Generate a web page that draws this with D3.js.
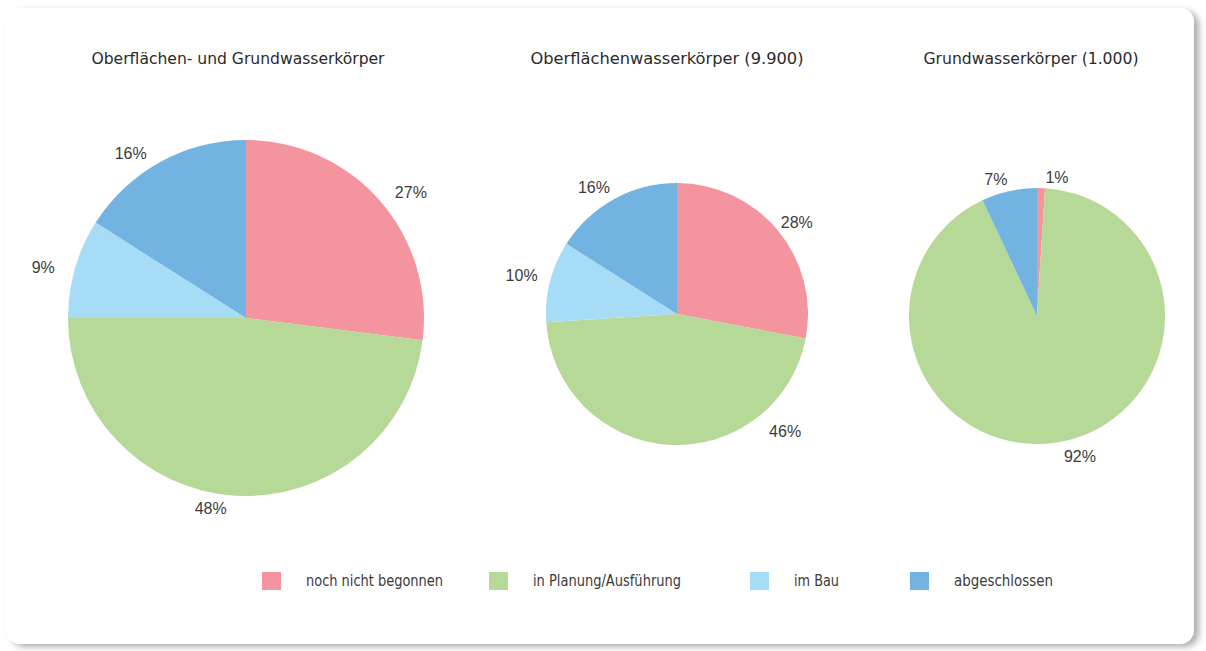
<!DOCTYPE html>
<html>
<head>
<meta charset="utf-8">
<script src="https://cdn.jsdelivr.net/npm/d3@7"></script>
<style>
  html, body { margin: 0; padding: 0; background: #ffffff; }
  svg { display: block; }
</style>
</head>
<body>
<svg id="chart" width="1206" height="651"></svg>
<script>
// ---------- data ----------
const categories = ["noch nicht begonnen", "in Planung/Ausführung", "im Bau", "abgeschlossen"];
const chartTitles = ["Oberflächen- und Grundwasserkörper", "Oberflächenwasserkörper (9.900)", "Grundwasserkörper (1.000)"];
const valuesGesamt = [27, 48, 9, 16];
const valuesOberflaeche = [28, 46, 10, 16];
const valuesGrundwasser = [1, 92, 0, 7];
const colors = ["#f4949f", "#b6d998", "#a6dcf6", "#72b3e1"];

// ---------- layout (positions/styles, not data) ----------
const pieLayout = [
  { cx: 246, cy: 318, r: 178, titleX: 238, labelAngles: [52.8, 190.5, 284, 325], labelDists: [207, 194, 209, 201] },
  { cx: 677, cy: 314, r: 131, titleX: 667, labelAngles: [52.5, 137.5, 283.8, 326.6], labelDists: [151, 160, 160, 151] },
  { cx: 1037, cy: 316, r: 128, titleX: 1031, labelAngles: [8.2, 163, 0, 343.3], labelDists: [140, 147, 0, 143] }
];
const titleLengths = [293, 273, 215];
const legendX = [262, 489, 750, 910];
const legendTextLengths = [137, 148, 45, 99];

const seriesList = [valuesGesamt, valuesOberflaeche, valuesGrundwasser];

const svg = d3.select("#chart");

// panel with shadow
const defs = svg.append("defs");
const f = defs.append("filter").attr("id", "shadow").attr("x", "-5%").attr("y", "-5%").attr("width", "110%").attr("height", "110%");
f.append("feDropShadow").attr("dx", 5).attr("dy", 3).attr("stdDeviation", 3)
  .attr("flood-color", "#7a7a7a").attr("flood-opacity", 0.6);

svg.append("rect")
  .attr("x", 6).attr("y", 8).attr("width", 1188).attr("height", 636)
  .attr("rx", 14).attr("ry", 14)
  .attr("fill", "#ffffff")
  .attr("filter", "url(#shadow)");

const color = d3.scaleOrdinal().domain(categories).range(colors);
const pie = d3.pie().sort(null).value(d => d.value);

seriesList.forEach((vals, i) => {
  const L = pieLayout[i];
  const g = svg.append("g").attr("transform", `translate(${L.cx},${L.cy})`);
  const data = categories.map((c, k) => ({ cat: c, value: vals[k], k }));
  const arcs = pie(data);
  const arc = d3.arc().innerRadius(0).outerRadius(L.r);

  g.selectAll("path.slice")
    .data(arcs.filter(a => a.data.value > 0))
    .join("path")
    .attr("class", "slice")
    .attr("d", arc)
    .attr("fill", d => color(d.data.cat));

  g.selectAll("text.lbl")
    .data(arcs.filter(a => a.data.value > 0))
    .join("text")
    .attr("class", "lbl")
    .attr("x", d => L.labelDists[d.data.k] * Math.sin(L.labelAngles[d.data.k] * Math.PI / 180))
    .attr("y", d => -L.labelDists[d.data.k] * Math.cos(L.labelAngles[d.data.k] * Math.PI / 180))
    .attr("text-anchor", "middle")
    .attr("dominant-baseline", "central")
    .attr("font-family", "'Liberation Sans', Arial, sans-serif")
    .attr("font-size", 16)
    .attr("fill", "#3c3c3c")
    .text(d => d.data.value + "%");

  svg.append("text")
    .attr("x", L.titleX).attr("y", 58)
    .attr("text-anchor", "middle")
    .attr("dominant-baseline", "central")
    .attr("font-family", "'DejaVu Sans Condensed', 'Liberation Sans Narrow', sans-serif")
    .attr("font-size", 16)
    .attr("fill", "#2a2a2a")
    .attr("textLength", titleLengths[i])
    .attr("lengthAdjust", "spacingAndGlyphs")
    .text(chartTitles[i]);
});

// legend
const lg = svg.append("g");
categories.forEach((c, k) => {
  lg.append("rect")
    .attr("x", legendX[k]).attr("y", 572)
    .attr("width", 19).attr("height", 18)
    .attr("fill", color(c));
  lg.append("text")
    .attr("x", legendX[k] + 44).attr("y", 581)
    .attr("dominant-baseline", "central")
    .attr("font-family", "'DejaVu Sans Condensed', 'Liberation Sans Narrow', sans-serif")
    .attr("font-size", 15)
    .attr("fill", "#3a3a3a")
    .attr("textLength", legendTextLengths[k])
    .attr("lengthAdjust", "spacingAndGlyphs")
    .text(c);
});
</script>
</body>
</html>
